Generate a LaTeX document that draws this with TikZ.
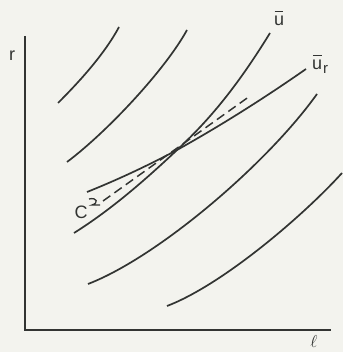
\documentclass[tikz,border=0pt]{standalone}
\usepackage{fontspec}
\setmainfont{Liberation Sans}
\definecolor{paper}{RGB}{243,243,238}
\definecolor{ink}{RGB}{50,52,50}
\newcommand{\ubarsym}{\leavevmode\rlap{\kern0.04em\raisebox{0.78em}{\rule{0.48em}{1.2pt}}}u}
\begin{document}
\begin{tikzpicture}[x=1pt,y=-1pt,
  curve/.style={draw=ink,line width=1.7pt},
  axis/.style={draw=ink,line width=1.8pt},
  lbl/.style={text=ink,inner sep=0pt,font=\fontsize{18}{18}\selectfont}]
\fill[paper] (0,0) rectangle (343,352);
\useasboundingbox (0,0) rectangle (343,352);
% axes
\coordinate (Ytop) at (25,36);
\coordinate (Xend) at (331,330);
\draw[axis] (Ytop) |- (Xend);
\node[lbl] (r) at (12,56) {r};
\node[lbl,font=\fontsize{19}{19}\selectfont] (l) at (314,341) {$\ell$};
% indifference curves
\draw[curve] (58,103) .. controls (78,83) and (104,55) .. (119,27);
\draw[curve] (67,162) .. controls (107,132) and (165,70) .. (187,30);
\coordinate (P) at (177,150);
% u bar
\draw[curve] (74,233) .. controls (109,211) and (142,183) .. (P)
  .. controls (207,122) and (235,90) .. (270,33);
% u bar r
\draw[curve] (87,192) .. controls (117,180) and (147,166) .. (P)
  .. controls (220,126) and (263,99) .. (306,69);
\draw[curve] (88,284) .. controls (158,257) and (267,164) .. (317,94);
\draw[curve] (167,306) .. controls (222,285) and (302,217) .. (342,173);
% dashed C
\coordinate (C1) at (103,201);
\coordinate (C2) at (250,96);
\draw[draw=ink,line width=1.5pt,dash pattern=on 9pt off 5pt] (C1) -- (C2);
\node[lbl] (C) at (81,212) {C};
\draw[draw=ink,line width=1.3pt] (89,199) .. controls (97,197) and (99,203) .. (92,205) -- (100,205);
\node[lbl,anchor=base] (ubar) at (279,26) {\ubarsym};
\node[lbl,anchor=base west] (ubarr) at (312,70) {\ubarsym\kern1pt{\fontsize{15}{15}\selectfont\raisebox{-0.25em}{r}}};
\end{tikzpicture}
\end{document}
